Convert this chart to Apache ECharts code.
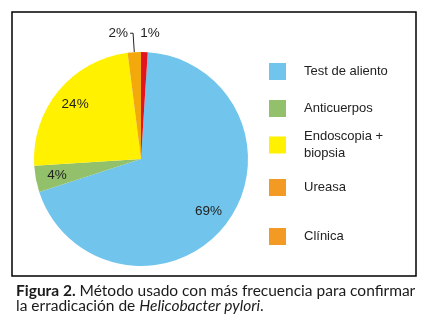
<!DOCTYPE html>
<html>
<head>
<meta charset="utf-8">
<script src="https://cdn.jsdelivr.net/npm/echarts@6/dist/echarts.min.js"></script>
<style>
  html, body { margin: 0; padding: 0; background: #fff; }
  #chart { width: 431px; height: 327px; }
</style>
</head>
<body>
<div id="chart"></div>
<script>
// datos de la figura
const categories = ["Test de aliento", "Anticuerpos", "Endoscopia + biopsia", "Ureasa", "Clínica"];
const values = [69, 4, 24, 2, 1];
const sliceColors = ["#71c5ec", "#93c06a", "#fff100", "#f3a80c", "#e2141d"];
const legendColors = ["#71c5ec", "#93c06a", "#fff100", "#f39a25", "#f39a25"];

const font = "'Liberation Sans', Arial, sans-serif";
const capFont = "Lato, 'Open Sans', sans-serif";
const cx = 141, cy = 159, r = 107;
const legendTops = [63, 100, 123.5, 179, 228];

const chart = echarts.init(document.getElementById("chart"));

// porcentajes pequeños fuera, grandes dentro
const mainData = categories.map((name, i) => ({
  name: name,
  value: values[i],
  itemStyle: { color: sliceColors[i] },
  label: { show: values[i] < 3 },
  labelLine: { show: values[i] === 2 }
}));
const innerData = categories.map((name, i) => ({
  name: name,
  value: values[i],
  label: { show: values[i] >= 3 }
}));

const legends = categories.map((name, i) => ({
  orient: "vertical",
  left: 269,
  top: legendTops[i],
  padding: 0,
  icon: "rect",
  itemWidth: 17,
  itemHeight: 17,
  selectedMode: false,
  formatter: n => n.replace(" + ", " +\n"),
  textStyle: {
    fontFamily: font,
    fontSize: 13,
    color: "#222",
    lineHeight: 17,
    padding: name.indexOf("+") > 0 ? [9, 0, 0, 13] : [0, 0, 0, 13]
  },
  data: [{ name: name, itemStyle: { color: legendColors[i] } }]
}));

chart.setOption({
  animation: false,
  legend: legends,
  title: {
    left: 16,
    top: 284,
    padding: 0,
    text: "{b|Figura 2.} Método usado con más frecuencia para confirmar\nla erradicación de {i|Helicobacter pylori}.",
    textStyle: {
      fontFamily: capFont,
      fontSize: 15.5,
      fontWeight: "normal",
      color: "#1a1a1a",
      lineHeight: 14.5,
      rich: {
        b: { fontFamily: capFont, fontSize: 15.5, fontWeight: "bold", color: "#1a1a1a", lineHeight: 14.5 },
        i: { fontFamily: capFont, fontSize: 15.5, fontStyle: "italic", color: "#1a1a1a", lineHeight: 14.5 }
      }
    }
  },
  graphic: [{
    type: "rect",
    shape: { x: 12, y: 12, width: 404, height: 264 },
    style: { fill: "none", stroke: "#000", lineWidth: 1.5 }
  }],
  series: [
    {
      type: "pie",
      center: [cx, cy],
      radius: [0, r],
      startAngle: 90 - values[4] * 3.6,
      clockwise: true,
      avoidLabelOverlap: false,
      label: {
        position: "outside",
        formatter: "{c}%",
        fontFamily: font,
        fontSize: 13.5,
        color: "#222",
        distanceToLabelLine: 2
      },
      labelLine: {
        length: 19,
        length2: 3,
        lineStyle: { color: "#222", width: 1 }
      },
      // la etiqueta sin línea va centrada sobre su punto
      labelLayout: p => (p.dataIndex === 4 ? { align: "center" } : {}),
      emphasis: { disabled: true },
      data: mainData
    },
    {
      type: "pie",
      center: [cx, cy],
      radius: [58, r],
      startAngle: 90 - values[4] * 3.6,
      clockwise: true,
      silent: true,
      itemStyle: { color: "rgba(0,0,0,0)" },
      label: {
        position: "inside",
        formatter: "{c}%",
        fontFamily: font,
        fontSize: 13.5,
        color: "#222"
      },
      labelLine: { show: false },
      data: innerData
    }
  ]
});
</script>
</body>
</html>
